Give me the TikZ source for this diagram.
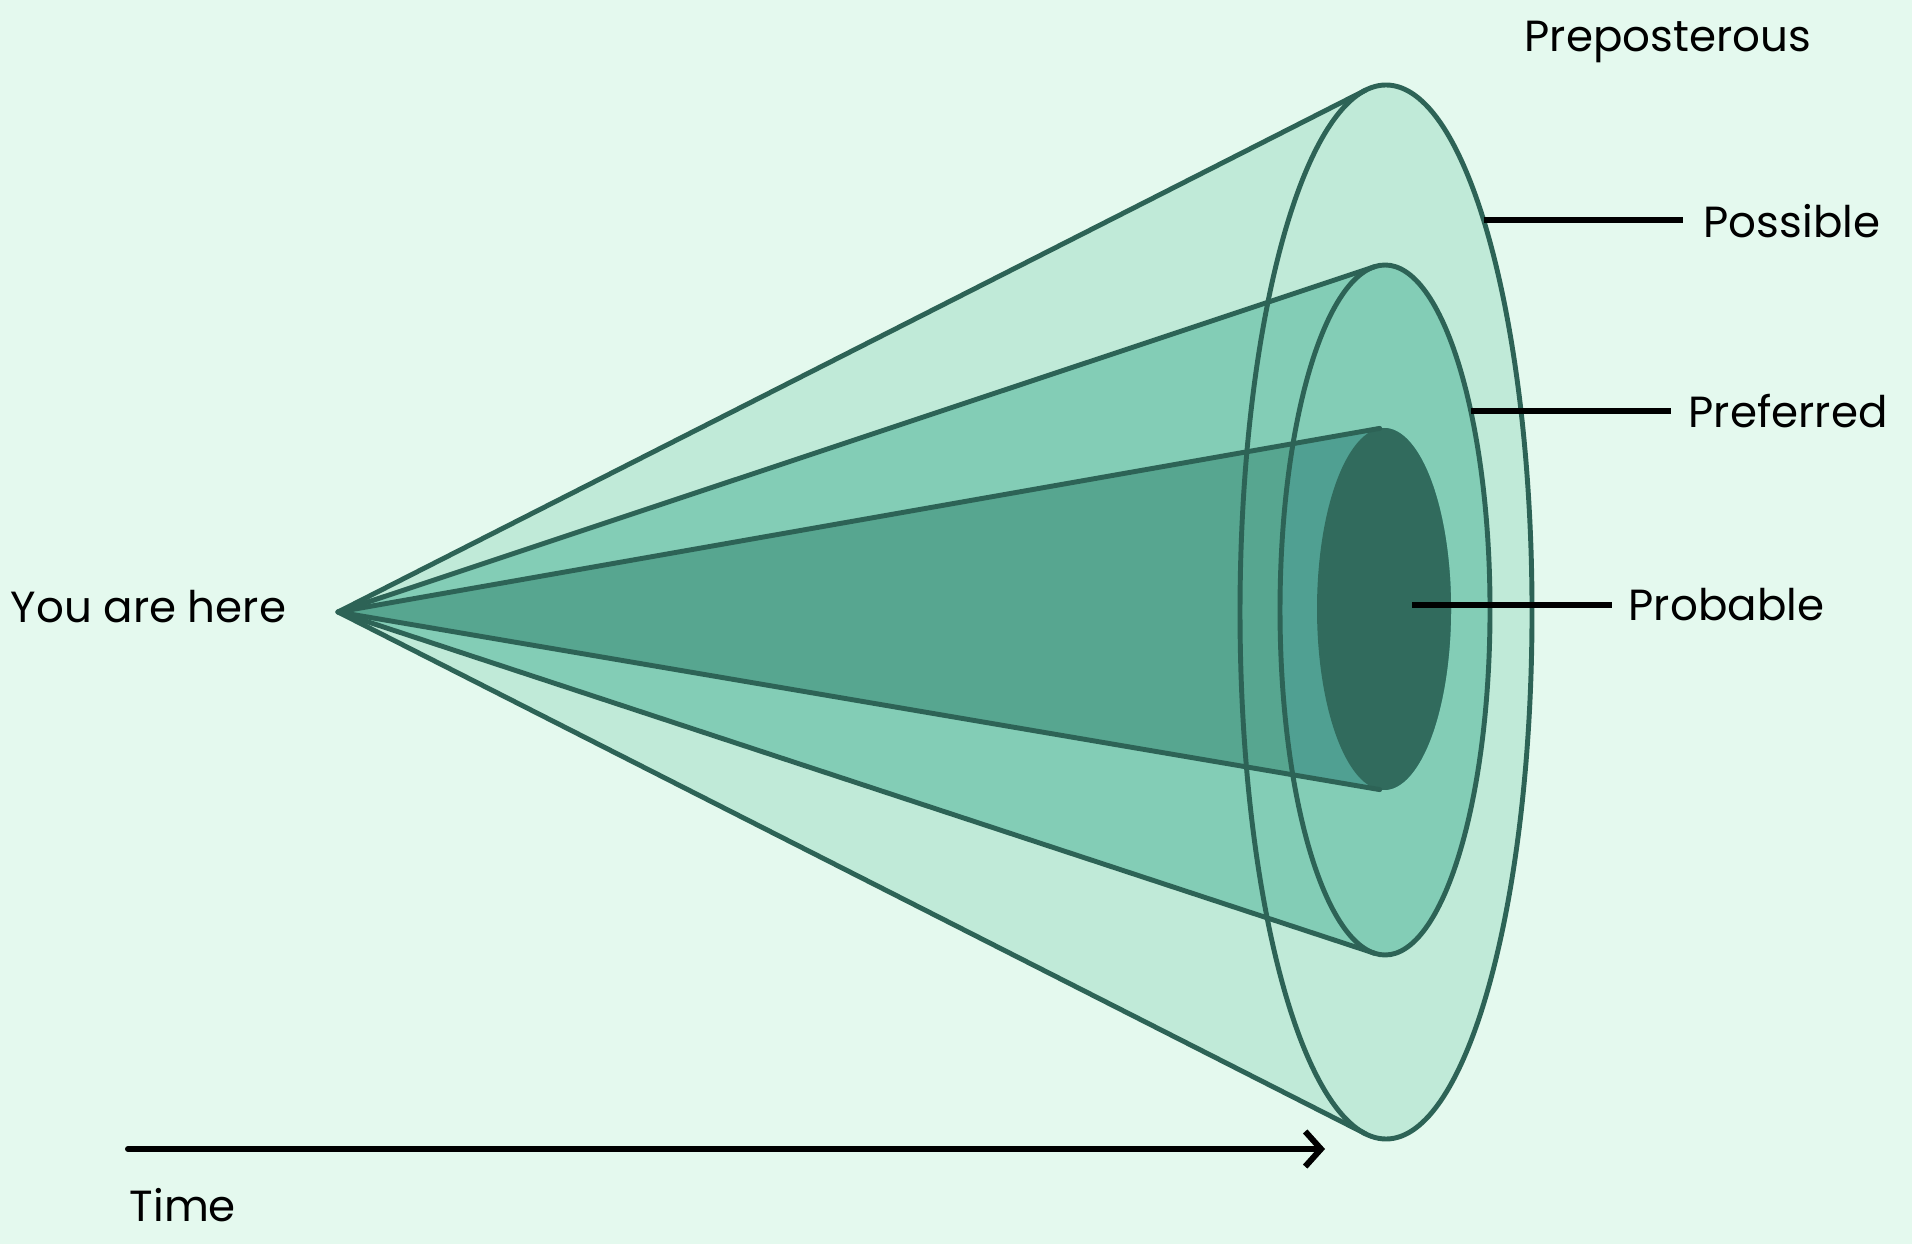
\documentclass[tikz,border=0pt]{standalone}
\usepackage{fontspec}
\setmainfont{Poppins}
\usetikzlibrary{arrows.meta}
\definecolor{mintbg}{HTML}{E4F9EE}
\definecolor{possfill}{HTML}{C0EAD8}
\definecolor{preffill}{HTML}{83CDB6}
\definecolor{probfill}{HTML}{57A690}
\definecolor{probside}{HTML}{50A092}
\definecolor{probdark}{HTML}{316B5D}
\definecolor{conedge}{HTML}{2D6356}
\begin{document}
\begin{tikzpicture}[>={Straight Barb[length=4.5pt,width=10pt]}, font=\fontsize{12.4}{15}\selectfont, line join=round, line cap=round,
	edge/.style={conedge,line width=1.4pt},
	leader/.style={black,line width=1.7pt,line cap=butt},
	lbl/.style={inner sep=0pt,anchor=west}]
			\fill[mintbg] (0,0) rectangle (19.12,12.44);
			\coordinate (apex) at (3.38,6.32);
			\coordinate (c1) at (13.86,6.32); % Possible
			\coordinate (c2) at (13.85,6.34); % Preferred
			\coordinate (c3) at (13.84,6.35); % Probable
			\fill[possfill] (apex)--([shift={(98:1.46 and 5.27)}]c1) arc[start angle=98,end angle=-98,x radius=1.46,y radius=5.27]--cycle;
			\fill[preffill] (apex)--([shift={(95.8:1.05 and 3.45)}]c2) arc[start angle=95.8,end angle=-95.8,x radius=1.05,y radius=3.45]--cycle;
			\fill[probfill] (apex)--([shift={(93.7:0.67 and 1.81)}]c3) arc[start angle=93.7,end angle=-93.7,x radius=0.67,y radius=1.81]--cycle;
			\begin{scope}
				\clip (c2) ellipse [x radius=1.05,y radius=3.45];
				\fill[probside] (apex)--([shift={(93.7:0.67 and 1.81)}]c3) arc[start angle=93.7,end angle=-93.7,x radius=0.67,y radius=1.81]--cycle;
			\end{scope}
			\fill[probdark] (c3) ellipse [x radius=0.67,y radius=1.81];
			\draw[edge] (apex)--([shift={(98:1.46 and 5.27)}]c1) (apex)--([shift={(-98:1.46 and 5.27)}]c1);
			\draw[edge] (c1) ellipse [x radius=1.46,y radius=5.27];
			\draw[edge] (apex)--([shift={(95.8:1.05 and 3.45)}]c2) (apex)--([shift={(-95.8:1.05 and 3.45)}]c2);
			\draw[edge] (c2) ellipse [x radius=1.05,y radius=3.45];
			\draw[edge] (apex)--([shift={(93.7:0.67 and 1.81)}]c3) (apex)--([shift={(-93.7:0.67 and 1.81)}]c3);
			% labels
			\node[lbl] (here) at (0.10,6.37) {You are here};
			\node[lbl] (prepost) at (15.24,12.02) {Preposterous};
			\node[lbl] (possible) at (17.03,10.23) {Possible};
			\node[lbl] (preferred) at (16.88,8.33) {Preferred};
			\node[lbl] (probable) at (16.28,6.39) {Probable};
			\coordinate (posspt) at ([shift={(48:1.46 and 5.27)}]c1);
			\coordinate (prefpt) at ([shift={(35.2:1.05 and 3.45)}]c2);
			\coordinate (probpt) at (14.12,6.39);
			\draw[leader] (posspt)--([xshift=-0.2cm]posspt-|possible.west);
			\draw[leader] (prefpt)--([xshift=-0.17cm]prefpt-|preferred.west);
			\draw[leader] (probpt)--([xshift=-0.16cm]probpt-|probable.west);
			% time axis
			\coordinate (t0) at (1.28,0.95);
			\coordinate (t1) at (13.25,0.95);
			\draw[->,line width=1.7pt] (t0)--(t1);
			\node[lbl] (time) at (1.29,0.39) {Time};
\end{tikzpicture}
\end{document}
